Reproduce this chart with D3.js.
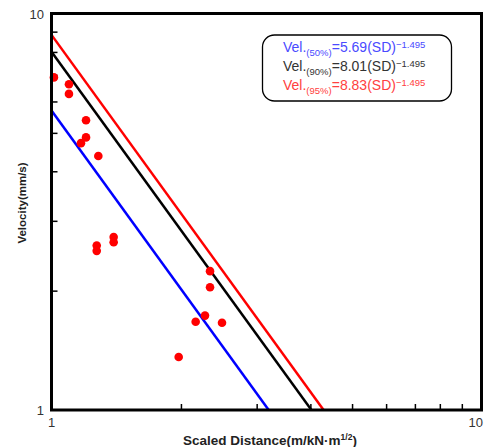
<!DOCTYPE html>
<html>
<head>
<meta charset="utf-8">
<script src="https://cdn.jsdelivr.net/npm/d3@7"></script>
<style>
  body { margin: 0; background: #fff; }
  svg { display: block; font-family: "Liberation Sans", Arial, sans-serif; }
</style>
</head>
<body>
<svg id="chart" width="484" height="447"></svg>
<script>
// Measured peak particle velocity vs. scaled distance
const distance = [1.013, 1.098, 1.098, 1.203, 1.203, 1.171, 1.285, 1.274, 1.274, 1.395, 1.395,
                  2.337, 2.337, 2.275, 2.164, 2.492, 1.976];
const velocity = [6.90, 6.63, 6.27, 5.38, 4.87, 4.71, 4.37, 2.60, 2.52, 2.73, 2.65,
                  2.24, 2.04, 1.73, 1.67, 1.66, 1.36];

// Regression lines: Vel = K * SD^n
const fitLabels = ["(50%)", "(90%)", "(95%)"];
const fitK = [5.69, 8.01, 8.83];
const fitN = -1.495;
const fitColors = ["#0000ff", "#000000", "#ff0000"];
const fitTextColors = ["#4a4aff", "#333333", "#ff4040"];

const xTickLabels = [1, 10];
const yTickLabels = [1, 10];
const minorTicks = [2, 3, 4, 5, 6, 7, 8, 9];

const svg = d3.select("#chart");
const plotLeft = 51.5, plotRight = 481.5, plotTop = 13.5, plotBottom = 410;

const x = d3.scaleLog().domain([1, 10]).range([plotLeft, plotRight]);
const y = d3.scaleLog().domain([1, 10]).range([plotBottom, plotTop]);

svg.append("defs").append("clipPath").attr("id", "plot")
  .append("rect").attr("x", plotLeft).attr("y", plotTop)
  .attr("width", plotRight - plotLeft).attr("height", plotBottom - plotTop);

// Minor ticks pointing inward
svg.append("g").attr("transform", `translate(0,${plotBottom})`)
  .call(d3.axisBottom(x).tickValues(minorTicks).tickSizeInner(-6).tickSizeOuter(0).tickFormat(""))
  .call(g => g.select(".domain").remove())
  .call(g => g.selectAll("line").attr("stroke", "#000").attr("stroke-width", 1.5));
svg.append("g").attr("transform", `translate(${plotLeft},0)`)
  .call(d3.axisLeft(y).tickValues(minorTicks).tickSizeInner(-6).tickSizeOuter(0).tickFormat(""))
  .call(g => g.select(".domain").remove())
  .call(g => g.selectAll("line").attr("stroke", "#000").attr("stroke-width", 1.5));

// Fitted lines from SD = 1 to where Vel = 1
const lines = svg.append("g").attr("clip-path", "url(#plot)");
fitK.forEach((k, i) => {
  const xEnd = Math.pow(1 / k, 1 / fitN);
  const pts = [[1, k], [xEnd, 1]];
  lines.append("path")
    .attr("d", d3.line().x(d => x(d[0])).y(d => y(d[1]))(pts))
    .attr("fill", "none").attr("stroke", fitColors[i]).attr("stroke-width", 2.5);
});

// Data points
svg.append("g").selectAll("circle").data(distance).join("circle")
  .attr("cx", d => x(d)).attr("cy", (d, i) => y(velocity[i]))
  .attr("r", 4.3).attr("fill", "#ff0000");

// Frame
svg.append("rect").attr("x", plotLeft).attr("y", plotTop)
  .attr("width", plotRight - plotLeft).attr("height", plotBottom - plotTop)
  .attr("fill", "none").attr("stroke", "#000").attr("stroke-width", 3);

// Tick labels (the last one kept inside the canvas edge)
svg.append("g").selectAll("text").data(xTickLabels).join("text")
  .attr("x", (d, i) => i === xTickLabels.length - 1 ? Math.min(x(d) + 7, 483) : x(d))
  .attr("y", 427)
  .attr("text-anchor", (d, i) => i === xTickLabels.length - 1 ? "end" : "middle")
  .attr("font-size", 13).attr("fill", "#333").text(d => d);
svg.append("g").selectAll("text").data(yTickLabels).join("text")
  .attr("x", 44).attr("y", d => y(d) + 5).attr("text-anchor", "end")
  .attr("font-size", 13).attr("fill", "#333").text(d => d);

// Axis titles
const xt = svg.append("text").attr("x", 270).attr("y", 444.5).attr("text-anchor", "middle")
  .attr("font-size", 13.5).attr("font-weight", "bold").attr("fill", "#222");
xt.append("tspan").text("Scaled Distance(m/kN·m");
xt.append("tspan").attr("font-size", 8.5).attr("dy", -5).text("1/2");
xt.append("tspan").attr("dy", 5).text(")");

svg.append("text").attr("transform", "translate(26,203) rotate(-90)")
  .attr("text-anchor", "middle").attr("font-size", 11.5).attr("font-weight", "bold")
  .attr("fill", "#222").text("Velocity(mm/s)");

// Legend
svg.append("rect").attr("x", 262.5).attr("y", 35).attr("width", 189).attr("height", 66)
  .attr("rx", 12).attr("fill", "#fff").attr("stroke", "#000").attr("stroke-width", 1.3);
fitK.forEach((k, i) => {
  const t = svg.append("text").attr("x", 283).attr("y", 52 + i * 19)
    .attr("font-size", 14).attr("fill", fitTextColors[i]);
  t.append("tspan").text("Vel.");
  t.append("tspan").attr("font-size", 9.5).attr("dy", 3.5).text(fitLabels[i]);
  t.append("tspan").attr("dy", -3.5).text(`=${k.toFixed(2)}(SD)`);
  t.append("tspan").attr("font-size", 9.5).attr("dy", -4.5).text(`\u22121.495`);
});
</script>
</body>
</html>
